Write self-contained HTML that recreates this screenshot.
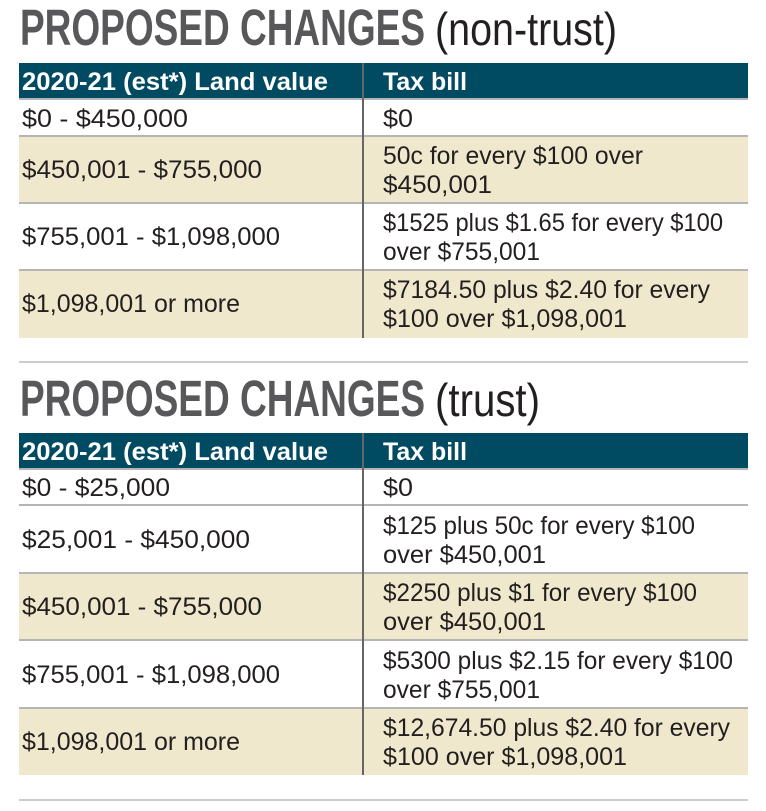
<!DOCTYPE html>
<html><head><style>
html,body{margin:0;padding:0;background:#fff;width:766px;height:811px;overflow:hidden}
svg{display:block}
.t{font-family:"Liberation Sans",sans-serif;font-weight:bold;fill:#58585a;font-size:51px}
.tn{font-family:"Liberation Sans",sans-serif;fill:#231f20;font-size:46px}
.h{font-family:"Liberation Sans",sans-serif;font-weight:bold;fill:#fff;font-size:25px}
.b{font-family:"Liberation Sans",sans-serif;fill:#231f20;font-size:25px}
</style></head><body>
<svg width="766" height="811" viewBox="0 0 766 811" xmlns="http://www.w3.org/2000/svg">
<text class="t" x="20" y="45" textLength="405" lengthAdjust="spacingAndGlyphs">PROPOSED CHANGES</text>
<text class="tn" x="435" y="45" textLength="182" lengthAdjust="spacingAndGlyphs">(non-trust)</text>
<rect x="19" y="63" width="729" height="36" fill="#004a62"/>
<rect x="19" y="136" width="729" height="67" fill="#efe8cc"/>
<rect x="19" y="270" width="729" height="68" fill="#efe8cc"/>
<g stroke="#b5b5b5" stroke-width="2">
<line x1="19" y1="99" x2="748" y2="99"/>
<line x1="19" y1="136" x2="748" y2="136"/>
<line x1="19" y1="203" x2="748" y2="203"/>
<line x1="19" y1="270" x2="748" y2="270"/>
</g>
<line x1="363" y1="63" x2="363" y2="338" stroke="#666" stroke-width="2"/>
<text class="h" x="22" y="90" textLength="306" lengthAdjust="spacingAndGlyphs">2020-21 (est*) Land value</text>
<text class="h" x="383" y="90" textLength="84" lengthAdjust="spacingAndGlyphs">Tax bill</text>
<text class="b" x="22" y="127" textLength="166" lengthAdjust="spacingAndGlyphs">$0 - $450,000</text>
<text class="b" x="383" y="127" textLength="30" lengthAdjust="spacingAndGlyphs">$0</text>
<text class="b" x="22" y="178" textLength="240" lengthAdjust="spacingAndGlyphs">$450,001 - $755,000</text>
<text class="b" x="383" y="164" textLength="260" lengthAdjust="spacingAndGlyphs">50c for every $100 over</text>
<text class="b" x="383" y="193" textLength="109" lengthAdjust="spacingAndGlyphs">$450,001</text>
<text class="b" x="22" y="245" textLength="258" lengthAdjust="spacingAndGlyphs">$755,001 - $1,098,000</text>
<text class="b" x="383" y="231" textLength="340" lengthAdjust="spacingAndGlyphs">$1525 plus $1.65 for every $100</text>
<text class="b" x="383" y="260" textLength="157" lengthAdjust="spacingAndGlyphs">over $755,001</text>
<text class="b" x="22" y="312" textLength="218" lengthAdjust="spacingAndGlyphs">$1,098,001 or more</text>
<text class="b" x="383" y="298" textLength="327" lengthAdjust="spacingAndGlyphs">$7184.50 plus $2.40 for every</text>
<text class="b" x="383" y="327" textLength="244" lengthAdjust="spacingAndGlyphs">$100 over $1,098,001</text>
<line x1="19" y1="362" x2="748" y2="362" stroke="#ccc" stroke-width="2"/>
<text class="t" x="20" y="416" textLength="405" lengthAdjust="spacingAndGlyphs">PROPOSED CHANGES</text>
<text class="tn" x="435" y="416" textLength="105" lengthAdjust="spacingAndGlyphs">(trust)</text>
<rect x="19" y="433" width="729" height="36" fill="#004a62"/>
<rect x="19" y="573" width="729" height="67" fill="#efe8cc"/>
<rect x="19" y="708" width="729" height="67" fill="#efe8cc"/>
<g stroke="#b5b5b5" stroke-width="2">
<line x1="19" y1="469" x2="748" y2="469"/>
<line x1="19" y1="505" x2="748" y2="505"/>
<line x1="19" y1="573" x2="748" y2="573"/>
<line x1="19" y1="640" x2="748" y2="640"/>
<line x1="19" y1="708" x2="748" y2="708"/>
</g>
<line x1="363" y1="433" x2="363" y2="775" stroke="#666" stroke-width="2"/>
<text class="h" x="22" y="460" textLength="306" lengthAdjust="spacingAndGlyphs">2020-21 (est*) Land value</text>
<text class="h" x="383" y="460" textLength="84" lengthAdjust="spacingAndGlyphs">Tax bill</text>
<text class="b" x="22" y="496" textLength="148" lengthAdjust="spacingAndGlyphs">$0 - $25,000</text>
<text class="b" x="383" y="496" textLength="30" lengthAdjust="spacingAndGlyphs">$0</text>
<text class="b" x="22" y="548" textLength="228" lengthAdjust="spacingAndGlyphs">$25,001 - $450,000</text>
<text class="b" x="383" y="534" textLength="312" lengthAdjust="spacingAndGlyphs">$125 plus 50c for every $100</text>
<text class="b" x="383" y="563" textLength="163" lengthAdjust="spacingAndGlyphs">over $450,001</text>
<text class="b" x="22" y="615" textLength="240" lengthAdjust="spacingAndGlyphs">$450,001 - $755,000</text>
<text class="b" x="383" y="601" textLength="314" lengthAdjust="spacingAndGlyphs">$2250 plus $1 for every $100</text>
<text class="b" x="383" y="630" textLength="163" lengthAdjust="spacingAndGlyphs">over $450,001</text>
<text class="b" x="22" y="683" textLength="258" lengthAdjust="spacingAndGlyphs">$755,001 - $1,098,000</text>
<text class="b" x="383" y="669" textLength="350" lengthAdjust="spacingAndGlyphs">$5300 plus $2.15 for every $100</text>
<text class="b" x="383" y="698" textLength="157" lengthAdjust="spacingAndGlyphs">over $755,001</text>
<text class="b" x="22" y="750" textLength="218" lengthAdjust="spacingAndGlyphs">$1,098,001 or more</text>
<text class="b" x="383" y="736" textLength="347" lengthAdjust="spacingAndGlyphs">$12,674.50 plus $2.40 for every</text>
<text class="b" x="383" y="765" textLength="244" lengthAdjust="spacingAndGlyphs">$100 over $1,098,001</text>
<line x1="19" y1="800" x2="748" y2="800" stroke="#ccc" stroke-width="2"/>
</svg>
</body></html>
